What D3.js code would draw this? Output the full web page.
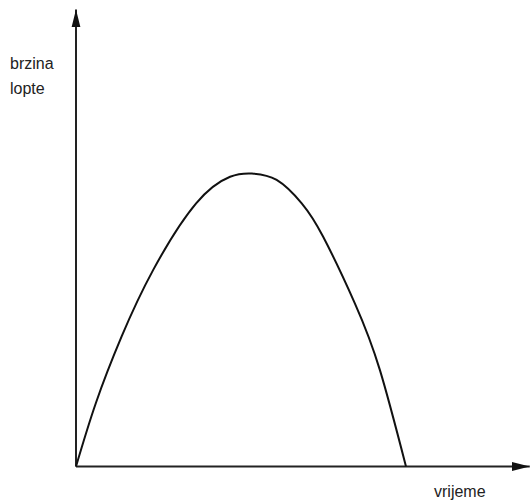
<!DOCTYPE html>
<html>
<head>
<meta charset="utf-8">
<script src="https://cdn.jsdelivr.net/npm/d3@7"></script>
<style>
  html, body { margin: 0; padding: 0; background: #fff; }
  svg { display: block; }
  text { font-family: "Liberation Sans", Arial, sans-serif; font-size: 16px; fill: #222; }
</style>
</head>
<body>
<svg id="viz" width="530" height="501"></svg>
<script>
// time (vrijeme) and ball speed (brzina lopte)
const time  = [0, 0.6, 1.38, 2.34, 3.64, 4.67, 5.33, 6.08, 6.84, 7.49, 8.45, 9.21, 10];
const speed = [0, 2.16, 4.43, 6.71, 8.98, 9.89, 10, 9.78, 8.98, 7.84, 5.57, 3.29, 0];

// how far the axes reach, in the same units
const timeAxisEnd = 13.75;
const speedAxisEnd = 15.6;

const yLabel = ["brzina", "lopte"];
const xLabel = "vrijeme";

const svg = d3.select("#viz");

const x = d3.scaleLinear().domain([0, 10]).range([76, 406]);
const y = d3.scaleLinear().domain([0, 10]).range([466.5, 173.5]);

const data = time.map((t, i) => ({ t: t, v: speed[i] }));

// arrow heads
const defs = svg.append("defs");
defs.append("marker")
    .attr("id", "arrow")
    .attr("viewBox", "0 0 18 10")
    .attr("refX", 18)
    .attr("refY", 5)
    .attr("markerWidth", 18)
    .attr("markerHeight", 10)
    .attr("markerUnits", "userSpaceOnUse")
    .attr("orient", "auto")
    .append("path")
    .attr("d", "M0,0.5 L18,5 L0,9.5 Z")
    .attr("fill", "#111");

// axes
svg.append("line")
    .attr("x1", x(0)).attr("y1", y(0))
    .attr("x2", x(0)).attr("y2", y(speedAxisEnd))
    .attr("stroke", "#222")
    .attr("stroke-width", 2)
    .attr("marker-end", "url(#arrow)");

svg.append("line")
    .attr("x1", x(0)).attr("y1", y(0))
    .attr("x2", x(timeAxisEnd)).attr("y2", y(0))
    .attr("stroke", "#222")
    .attr("stroke-width", 2)
    .attr("marker-end", "url(#arrow)");

// curve
const line = d3.line()
    .x(d => x(d.t))
    .y(d => y(d.v))
    .curve(d3.curveNatural);

svg.append("path")
    .datum(data)
    .attr("d", line)
    .attr("fill", "none")
    .attr("stroke", "#111")
    .attr("stroke-width", 2);

// labels
svg.selectAll("text.ylab")
    .data(yLabel)
    .enter()
    .append("text")
    .attr("class", "ylab")
    .attr("x", 10)
    .attr("y", (d, i) => 69 + i * 24.5)
    .text(d => d);

svg.append("text")
    .attr("x", 434)
    .attr("y", 497)
    .text(xLabel);
</script>
</body>
</html>
